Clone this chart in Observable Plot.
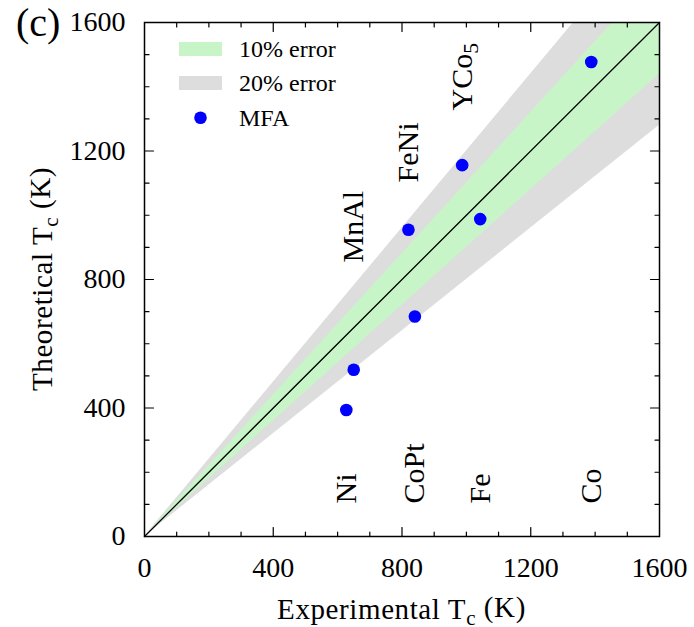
<!DOCTYPE html>
<html>
<head>
<meta charset="utf-8">
<script src="https://cdn.jsdelivr.net/npm/d3@7"></script>
<script src="https://cdn.jsdelivr.net/npm/@observablehq/plot@0.6"></script>
<style>
  html, body { margin: 0; padding: 0; background: white; }
  #chart { width: 694px; height: 627px; }
</style>
</head>
<body>
<div id="chart"></div>
<script>
// ---- data ----
const materials = ["Ni", "MnAl", "CoPt", "FeNi", "YCo5", "Fe", "Co"];
const experimentalTc = [627, 650, 840, 820, 987, 1043, 1388];
const theoreticalTc = [394, 519, 685, 955, 1156, 988, 1477];
const labelAnchorY = [103, 853, 103, 1102, 1326, 103, 103];
const majorTicks = [0, 400, 800, 1200, 1600];
const minorTicks = [100, 200, 300, 500, 600, 700, 900, 1000, 1100, 1300, 1400, 1500];
const innerMajor = [400, 800, 1200];
const diagonal = [0, 1600];
const errorLevels = [0.2, 0.1];
const errorColors = ["#dddddd", "#c8f5c8"];
const legendLabels = ["10% error", "20% error", "MFA"];

const points = materials.map((m, i) => ({name: m, x: experimentalTc[i], y: theoreticalTc[i], ly: labelAnchorY[i]}));

const FONT = "'Liberation Serif', 'Times New Roman', serif";
const tickShape = {draw(context, l) { context.moveTo(0, 0); context.lineTo(0, -l); }};
const tickStyle = {stroke: "black", strokeWidth: 1.2, anchor: "start", shape: tickShape};

const W = 694, H = 627, mL = 144, mR = 35, mT = 22, mB = 91;

const plot = Plot.plot({
  width: W, height: H,
  marginLeft: mL, marginRight: mR, marginTop: mT, marginBottom: mB,
  x: {domain: [0, 1600]},
  y: {domain: [0, 1600]},
  style: {fontFamily: FONT, fontSize: "28px", background: "white", color: "black", overflow: "visible"},
  marks: [
    ...errorLevels.map((e, k) => Plot.areaY(diagonal, {x: d => d, y1: d => d * (1 - e), y2: d => d * (1 + e), fill: errorColors[k], clip: true})),
    Plot.line(diagonal, {x: d => d, y: d => d, stroke: "black", strokeWidth: 1.3}),
    Plot.dot(points, {x: "x", y: "y", r: 6.3, fill: "#0000ff", stroke: "none"}),
    Plot.text(points, {x: "x", y: "ly", text: "name", rotate: -90, textAnchor: "start", lineAnchor: "middle", fontSize: 30, fill: "black"}),
    // inward ticks
    Plot.vector(innerMajor, {x: d => d, frameAnchor: "bottom", rotate: 0, length: 9, ...tickStyle}),
    Plot.vector(minorTicks, {x: d => d, frameAnchor: "bottom", rotate: 0, length: 4.5, ...tickStyle}),
    Plot.vector(innerMajor, {x: d => d, frameAnchor: "top", rotate: 180, length: 9, ...tickStyle}),
    Plot.vector(minorTicks, {x: d => d, frameAnchor: "top", rotate: 180, length: 4.5, ...tickStyle}),
    Plot.vector(innerMajor, {y: d => d, frameAnchor: "left", rotate: 90, length: 9, ...tickStyle}),
    Plot.vector(minorTicks, {y: d => d, frameAnchor: "left", rotate: 90, length: 4.5, ...tickStyle}),
    Plot.vector(innerMajor, {y: d => d, frameAnchor: "right", rotate: -90, length: 9, ...tickStyle}),
    Plot.vector(minorTicks, {y: d => d, frameAnchor: "right", rotate: -90, length: 4.5, ...tickStyle}),
    Plot.frame({stroke: "black", strokeWidth: 1.5}),
    Plot.axisX({ticks: majorTicks, tickSize: 0, tickPadding: 21, tickFormat: d => String(d), label: null}),
    Plot.axisY({ticks: majorTicks, tickSize: 0, tickPadding: 19, tickFormat: d => String(d), label: null})
  ]
});

const svg = d3.select(plot);

// subscript in YCo5 label
svg.selectAll("text").each(function() {
  const t = d3.select(this);
  if (t.text() === "YCo5") {
    t.text("YCo");
    t.append("tspan").attr("dy", "0.3em").style("font-size", "0.72em").text("5");
  }
});

function styledText(g, size, anchor) {
  return g.append("text")
    .style("font-family", FONT).style("font-size", size + "px")
    .style("text-anchor", anchor).style("fill", "black");
}

// axis titles with subscripts
function subTitle(g, base, sub, rest) {
  const t = styledText(g, 29, "middle").style("letter-spacing", "0.6px");
  t.append("tspan").text(base);
  t.append("tspan").attr("dy", "0.3em").style("font-size", "0.72em").text(sub);
  t.append("tspan").attr("dy", "-0.3em").text(rest);
  return t;
}
subTitle(svg.append("g").attr("transform", `translate(${(mL + W - mR) / 2},619)`), "Experimental T", "c", " (K)");
subTitle(svg.append("g").attr("transform", `translate(52,${(mT + H - mB) / 2}) rotate(-90)`), "Theoretical T", "c", " (K)");

// panel tag
styledText(svg, 40, "start").attr("x", 16).attr("y", 36).text("(c)");

// legend
const lg = svg.append("g");
lg.append("rect").attr("x", 179).attr("y", 42).attr("width", 43).attr("height", 14).attr("fill", errorColors[1]);
lg.append("rect").attr("x", 179).attr("y", 76).attr("width", 43).attr("height", 14).attr("fill", errorColors[0]);
lg.append("circle").attr("cx", 200.5).attr("cy", 117.7).attr("r", 6.3).attr("fill", "#0000ff");
[57, 91, 126].forEach((yy, i) => styledText(lg, 24, "start").attr("x", 239).attr("y", yy).text(legendLabels[i]));

document.getElementById("chart").appendChild(plot);
</script>
</body>
</html>
